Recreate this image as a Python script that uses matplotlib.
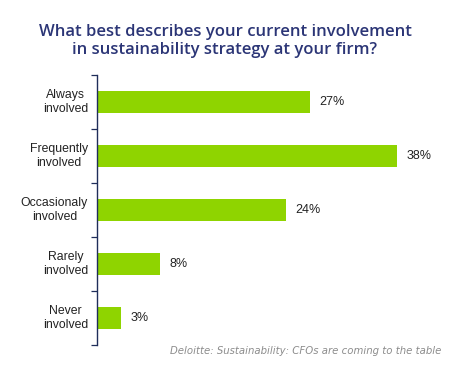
import matplotlib
matplotlib.use("Agg")
import matplotlib.pyplot as plt

categories = ["Always\ninvolved", "Frequently\ninvolved", "Occasionaly\ninvolved",
              "Rarely\ninvolved", "Never\ninvolved"]
values = [27, 38, 24, 8, 3]
value_labels = ["27%", "38%", "24%", "8%", "3%"]

W, H = 452, 366
fig = plt.figure(figsize=(W / 100, H / 100), dpi=100)
fig.patch.set_facecolor("white")

ax = fig.add_axes([97 / W, 21 / H, 355 / W, 270 / H])
ypos = list(range(len(categories)))
ax.barh(ypos, values, height=0.39, color="#8FD400")
ax.set_xlim(0, 45)
ax.set_ylim(len(categories) - 0.5, -0.5)

for y, v, lab in zip(ypos, values, value_labels):
    ax.text(v + 1.2, y, lab, va="center", ha="left", fontsize=9,
            family="Liberation Sans", color="#222222")

# boundary ticks (major) + centred category labels
ax.set_yticks([i - 0.5 for i in range(len(categories) + 1)])
ax.set_yticklabels([])
ax.tick_params(axis="y", which="major", length=4, width=0.9, color="#1F2D5A")
for y, cat in zip(ypos, categories):
    ax.annotate(cat, xy=(0, y), xycoords=("axes fraction", "data"),
                xytext=(-6.5, 0), textcoords="offset points",
                ha="right", va="center", multialignment="center",
                fontsize=8.8, family="Liberation Sans", color="#222222",
                linespacing=1.3)
ax.set_xticks([])
for s in ["top", "right", "bottom"]:
    ax.spines[s].set_visible(False)
ax.spines["left"].set_color("#1F2D5A")
ax.spines["left"].set_linewidth(1.0)

fig.text(225 / W, 1 - 41 / H, "What best describes your current involvement\nin sustainability strategy at your firm?",
         ha="center", va="center", fontsize=12, color="#2B3576",
         family="Open Sans", fontweight="semibold", linespacing=1.1)

fig.text(441 / W, 1 - 351 / H, "Deloitte: Sustainability: CFOs are coming to the table",
         ha="right", va="center", fontsize=7.3, style="italic", color="#8C8C8C",
         family="DejaVu Sans")

fig.savefig("out.png", dpi=100)
